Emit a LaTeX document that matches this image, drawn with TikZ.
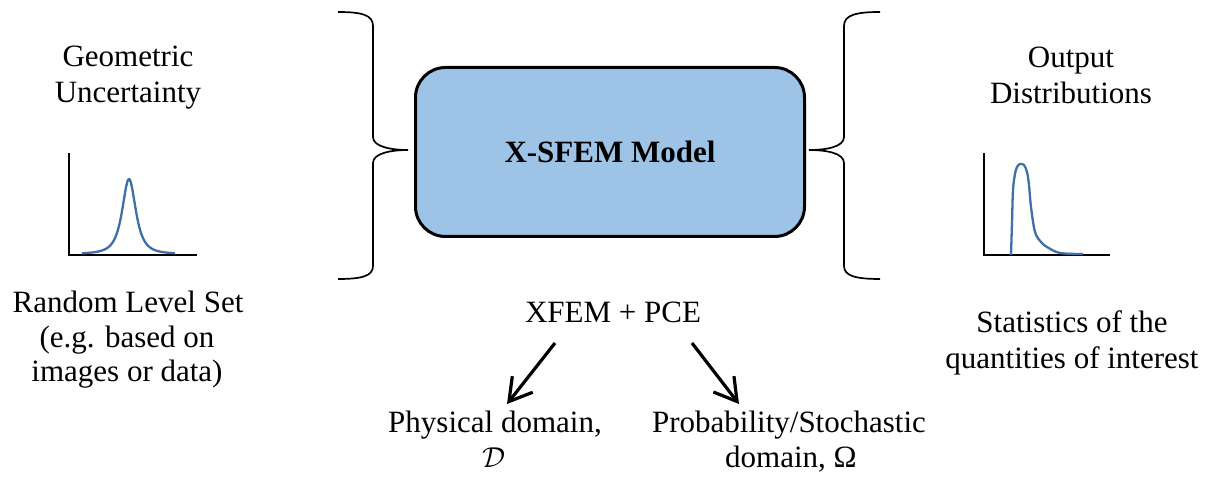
\documentclass[tikz,border=0pt]{standalone}
\usepackage{fontspec}
\setmainfont{Liberation Serif}
\usetikzlibrary{arrows.meta}

\definecolor{modelfill}{RGB}{157,195,230}
\definecolor{pdfblue}{RGB}{62,111,166}

\tikzset{
  lbl/.style={inner sep=0pt, anchor=base, font=\fontsize{15.5}{18}\selectfont},
  modelbox/.style={draw, line width=1.5pt, fill=modelfill, rounded corners=15pt,
    minimum width=194.5pt, minimum height=84.5pt, inner sep=0pt,
    font=\fontsize{15.5}{18}\selectfont\bfseries},
  bracket/.style={line width=0.85pt},
  axisline/.style={line width=1.2pt},
  pdfcurve/.style={pdfblue, line width=1.15pt, line join=round},
  flow/.style={line width=1.6pt, -{Straight Barb[length=11pt,width=13pt]}}
}

\begin{document}
\begin{tikzpicture}[x=0.5pt,y=-0.5pt]
\useasboundingbox (0,0) rectangle (1206,491);

% central model
\node[modelbox] (model) at (610,152) {X-SFEM Model};

% input side
\node[lbl] (geo1) at (128,67) {Geometric};
\node[lbl] (geo2) at (128,103) {Uncertainty};
\node[lbl] (rls1) at (128,313) {Random Level Set};
\node[lbl] (rls2) at (127,348) {(e.g. based on};
\node[lbl] (rls3) at (127,382) {images or data)};

% output side
\node[lbl] (out1) at (1071,67.5) {Output};
\node[lbl] (out2) at (1071,104) {Distributions};
\node[lbl] (sta1) at (1072,333) {Statistics of the};
\node[lbl] (sta2) at (1072,369) {quantities of interest};

% method and domains
\node[lbl] (method) at (613,323) {XFEM + PCE};
\node[lbl] (phys1) at (495,433) {Physical domain,};
\node[lbl] (phys2) at (494,468) {$\mathcal{D}$};
\node[lbl] (prob1) at (789,433) {Probability/Stochastic};
\node[lbl] (prob2) at (791,468) {domain, Ω};

% left brace
\draw[bracket] (338,12) .. controls (362,12) and (373,15) .. (373,26)
  -- (373,137) .. controls (373,147) and (392,150) .. (408,150)
  .. controls (392,150) and (373,153) .. (373,163)
  -- (373,266) .. controls (373,276) and (362,279) .. (338,279);

% right brace
\draw[bracket] (880,12) .. controls (856,12) and (844,15) .. (844,26)
  -- (844,137) .. controls (844,147) and (826,150) .. (809,150)
  .. controls (826,150) and (844,153) .. (844,163)
  -- (844,266) .. controls (844,276) and (856,279) .. (880,279);

% input distribution
\draw[axisline] (69,153) -- (69,255) -- (197,255);
\draw[pdfcurve] plot[domain=82:175, samples=120]
  (\x, {254-75/(1+((\x-129)/10.4)^2)^1.5});

% output distribution
\draw[axisline] (984,153) -- (984,255) -- (1110,255);
\draw[pdfcurve] plot[smooth, tension=0.55] coordinates {
  (1011,255) (1012,223) (1013,190) (1015,174) (1017,167) (1020,164)
  (1024,165) (1027,172) (1029,185) (1031,207) (1035,232) (1041,242)
  (1047,247) (1060,253) (1083,254)};

% method splits into the two domains
\coordinate (l-from) at (555,343);
\coordinate (l-to) at (507,404);
\coordinate (r-from) at (692,343);
\coordinate (r-to) at (739,404);
\draw[flow] (l-from) -- (l-to);
\draw[flow] (r-from) -- (r-to);
\end{tikzpicture}
\end{document}
